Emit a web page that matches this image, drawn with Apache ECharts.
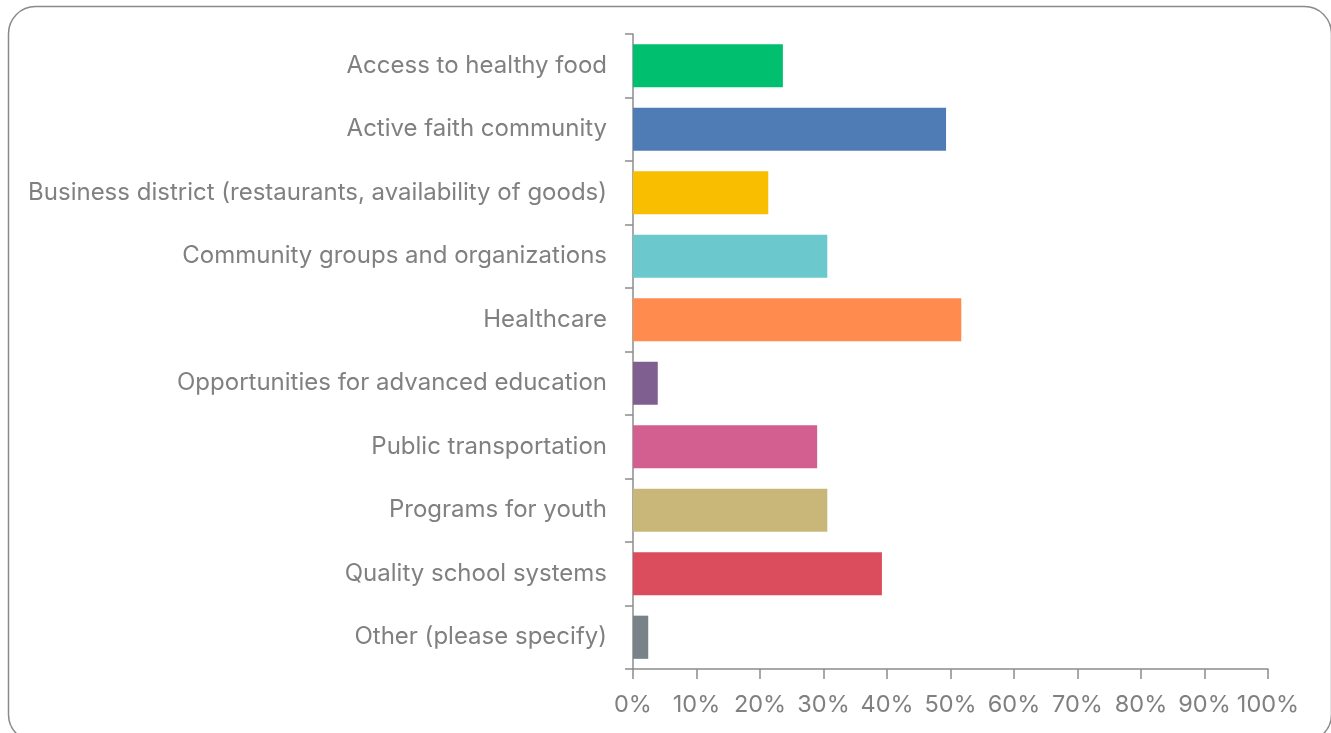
<!DOCTYPE html>
<html>
<head>
<meta charset="utf-8">
<script src="https://cdn.jsdelivr.net/npm/echarts@6/dist/echarts.min.js"></script>
<style>
  html, body { margin: 0; padding: 0; background: #ffffff; }
  #chart { width: 1331px; height: 733px; }
</style>
</head>
<body>
<div id="chart"></div>
<script>
// Community assets, share of respondents (%)
const categories = [
  'Access to healthy food',
  'Active faith community',
  'Business district (restaurants, availability of goods)',
  'Community groups and organizations',
  'Healthcare',
  'Opportunities for advanced education',
  'Public transportation',
  'Programs for youth',
  'Quality school systems',
  'Other (please specify)'
];
const shares = [23.6, 49.3, 21.3, 30.6, 51.7, 3.9, 29.0, 30.6, 39.2, 2.4];
const barColors = [
  '#00BF6F', '#507CB6', '#F9BE00', '#6BC8CD', '#FF8B4F',
  '#7F5F90', '#D25F90', '#C9B77A', '#DB4D5C', '#7A8289'
];
const xTicks = [0, 10, 20, 30, 40, 50, 60, 70, 80, 90, 100];

const chart = echarts.init(document.getElementById('chart'));
const fontFamily = 'Inter, "Open Sans", sans-serif';
const labelColor = '#808080';
const axisColor = '#8c8c8c';

chart.setOption({
  animation: false,
  graphic: [{
    type: 'rect',
    left: 6, top: 4,
    shape: { width: 1323, height: 735, r: 27 },
    style: { fill: 'none', stroke: '#8a8a8a', lineWidth: 1.5 },
    silent: true
  }],
  grid: { left: 633, right: 63, top: 34, bottom: 64, containLabel: false },
  xAxis: {
    type: 'value',
    min: xTicks[0],
    max: xTicks[xTicks.length - 1],
    interval: 10,
    splitLine: { show: false },
    axisLine: { show: true, lineStyle: { color: axisColor, width: 1.5 } },
    axisTick: { show: true, length: 10, lineStyle: { color: axisColor, width: 1.5 } },
    axisLabel: {
      color: labelColor, fontSize: 23.5, fontFamily, margin: 24,
      formatter: v => v + '%'
    }
  },
  yAxis: {
    type: 'category',
    inverse: true,
    data: categories,
    axisLine: { show: true, lineStyle: { color: axisColor, width: 1.5 } },
    axisTick: { show: true, length: 8, lineStyle: { color: axisColor, width: 1.5 } },
    axisLabel: { color: labelColor, fontSize: 24, fontFamily, margin: 26 }
  },
  series: [{
    type: 'bar',
    data: shares.map((v, i) => ({ value: v, itemStyle: { color: barColors[i] } })),
    barCategoryGap: '32%'
  }]
});
</script>
</body>
</html>
